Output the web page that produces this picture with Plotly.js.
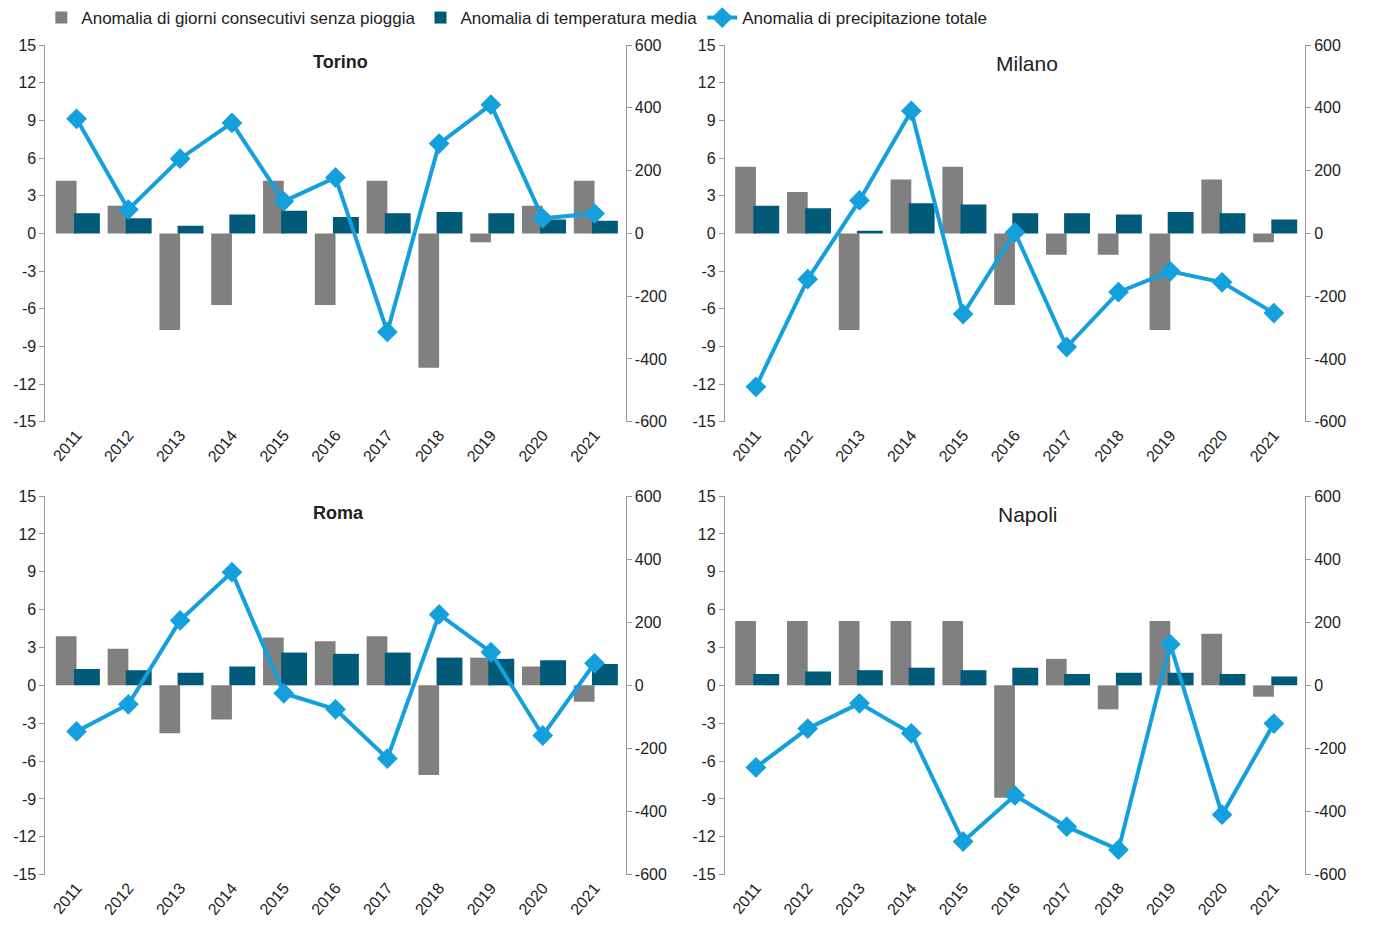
<!DOCTYPE html><html><head><script src="https://cdn.plot.ly/plotly-3.0.1.min.js"></script></head><body style="margin:0"><div id="c" style="width:1378px;height:936px"></div><script>
const years=['2011','2012','2013','2014','2015','2016','2017','2018','2019','2020','2021'];
const cities=['Torino','Milano','Roma','Napoli'];
const leftTicks=[-15,-12,-9,-6,-3,0,3,6,9,12,15];
const rightTicks=[-600,-400,-200,0,200,400,600];
const dryDays={Torino:[4.2,2.2,-7.7,-5.7,4.2,-5.7,4.2,-10.7,-0.7,2.2,4.2],
Milano:[5.3,3.3,-7.7,4.3,5.3,-5.7,-1.7,-1.7,-7.7,4.3,-0.7],
Roma:[3.9,2.9,-3.8,-2.7,3.8,3.5,3.9,-7.1,2.2,1.5,-1.3],
Napoli:[5.1,5.1,5.1,5.1,5.1,-8.9,2.1,-1.9,5.1,4.1,-0.9]};
const temp={Torino:[1.6,1.2,0.6,1.5,1.8,1.3,1.6,1.7,1.6,1.1,1.0],
Milano:[2.2,2.0,0.2,2.4,2.3,1.6,1.6,1.5,1.7,1.6,1.1],
Roma:[1.3,1.2,1.0,1.5,2.6,2.5,2.6,2.2,2.1,2.0,1.7],
Napoli:[0.9,1.1,1.2,1.4,1.2,1.4,0.9,1.0,1.0,0.9,0.7]};
const precip={Torino:[365,76,238,352,102,178,-314,286,410,48,63],
Milano:[-489,-146,105,390,-257,3,-362,-187,-121,-156,-254],
Roma:[-146,-60,206,359,-25,-76,-232,225,105,-159,70],
Napoli:[-260,-137,-57,-152,-495,-349,-448,-521,130,-410,-121]};
const names=['Anomalia di giorni consecutivi senza pioggia','Anomalia di temperatura media','Anomalia di precipitazione totale'];
const xd=[[0.033,0.454],[0.526,0.947]], yd=[[0.553,0.958],[0.066,0.473]];
const titleX=[0.226,0.769];
const titleBold={Torino:true,Milano:false,Roma:true,Napoli:false};
let data=[],layout={width:1378,height:936,margin:{l:0,r:0,t:0,b:0},paper_bgcolor:'#fff',plot_bgcolor:'#fff',
font:{family:'Liberation Sans, Arial',size:16,color:'#222'},
legend:{orientation:'h',x:0.03,y:0.968,yanchor:'bottom',font:{size:17},traceorder:'normal'},annotations:[]};
cities.forEach((c,i)=>{
 const n=i+1, sx=n==1?'':n, xa='x'+sx, ya='y'+(2*i+1), y2='y'+(2*i+2);
 const col=i%2,row=Math.floor(i/2);
 data.push({type:'bar',x:years,y:dryDays[c],xaxis:xa,yaxis:ya,marker:{color:'#808080'},width:0.4,offset:-0.4,name:names[0],showlegend:i==0,legendgroup:'a'});
 data.push({type:'bar',x:years,y:temp[c],xaxis:xa,yaxis:ya,marker:{color:'#005a78'},width:0.5,offset:-0.05,name:names[1],showlegend:i==0,legendgroup:'b'});
 data.push({type:'scatter',mode:'lines+markers',x:years,y:precip[c],xaxis:xa,yaxis:y2,line:{color:'#14a0dc',width:4},marker:{symbol:'diamond',size:16,color:'#14a0dc'},name:names[2],showlegend:i==0,legendgroup:'c'});
 layout['xaxis'+sx]={domain:xd[col],anchor:ya,type:'category',range:[-0.6,10.6],tickangle:-50,showgrid:false,showline:false,ticks:'',tickfont:{size:16}};
 layout['yaxis'+(2*i+1)]={domain:yd[row],anchor:xa,range:[-15,15],tickmode:'array',tickvals:leftTicks,ticktext:leftTicks.map(String),showgrid:false,zeroline:false,showline:true,linecolor:'#999',ticks:'outside',tickcolor:'#999',ticklen:5,tickfont:{size:16}};
 layout['yaxis'+(2*i+2)]={domain:yd[row],anchor:xa,overlaying:ya,side:'right',range:[-600,600],tickmode:'array',tickvals:rightTicks,ticktext:rightTicks.map(String),showgrid:false,zeroline:false,showline:true,linecolor:'#999',ticks:'outside',tickcolor:'#999',ticklen:5,tickfont:{size:16}};
 layout.annotations.push({xref:'paper',yref:'paper',x:titleX[col],y:yd[row][1]-0.005,yanchor:'top',showarrow:false,
  text:titleBold[c]?'<b>'+c+'</b>':c,font:{size:titleBold[c]?18:21}});
});
layout.barmode='overlay';
Plotly.newPlot('c',data,layout,{displayModeBar:false});
</script></body></html>
